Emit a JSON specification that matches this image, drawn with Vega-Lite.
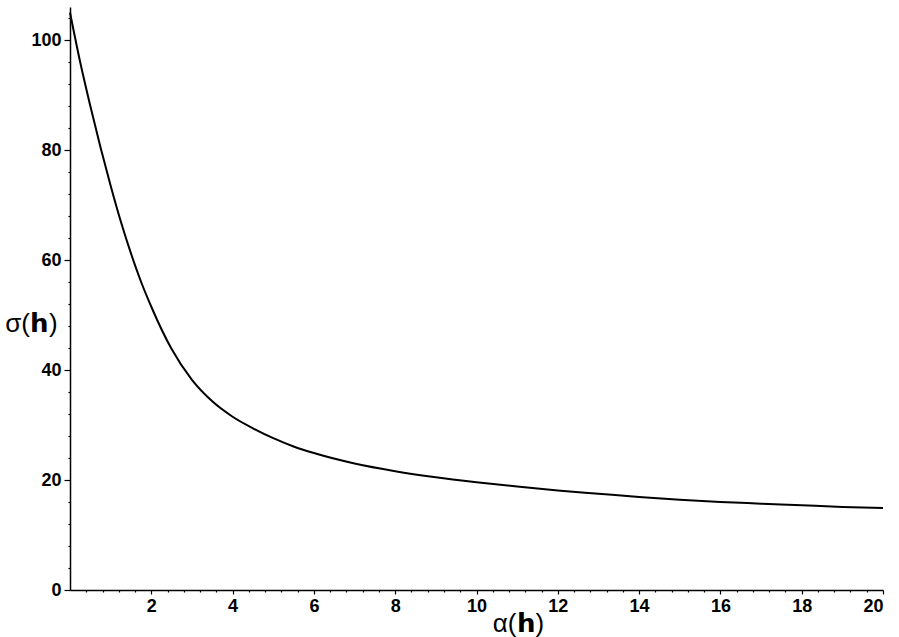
{
  "$schema": "https://vega.github.io/schema/vega-lite/v6.json",
  "width": 813,
  "height": 583,
  "autosize": {"type": "none"},
  "padding": {"left": 70, "top": 7, "right": 16, "bottom": 47},
  "background": "white",
  "config": {
    "view": {"stroke": null},
    "axis": {
      "grid": false,
      "domainColor": "black",
      "domainWidth": 1.5,
      "tickColor": "black",
      "tickWidth": 1.2,
      "labelColor": "black",
      "labelFont": "Liberation Sans",
      "labelFontSize": 18,
      "labelFontWeight": "bold",
      "titleFont": "Liberation Sans",
      "titleColor": "black"
    }
  },
  "data": {
    "values": [
      {"a": 0, "s": 105},
      {"a": 0.25, "s": 96},
      {"a": 0.5, "s": 88},
      {"a": 0.75, "s": 80.5},
      {"a": 1.0, "s": 73.5},
      {"a": 1.25, "s": 67},
      {"a": 1.5, "s": 61.2},
      {"a": 1.75, "s": 56},
      {"a": 2.0, "s": 51.5},
      {"a": 2.5, "s": 43.8},
      {"a": 3.0, "s": 38.2},
      {"a": 3.5, "s": 34.3},
      {"a": 4.0, "s": 31.5},
      {"a": 4.5, "s": 29.4},
      {"a": 5.0, "s": 27.6},
      {"a": 5.5, "s": 26.1},
      {"a": 6.0, "s": 24.9},
      {"a": 7.0, "s": 23},
      {"a": 8.0, "s": 21.6},
      {"a": 9.0, "s": 20.5},
      {"a": 10, "s": 19.6},
      {"a": 11, "s": 18.8},
      {"a": 12, "s": 18.1},
      {"a": 13, "s": 17.5},
      {"a": 14, "s": 16.9},
      {"a": 15, "s": 16.4},
      {"a": 16, "s": 16.0},
      {"a": 17, "s": 15.7},
      {"a": 18, "s": 15.4},
      {"a": 19, "s": 15.1},
      {"a": 20, "s": 14.9}
    ]
  },
  "layer": [
    {
      "mark": {"type": "line", "opacity": 0},
      "encoding": {
        "x": {
          "field": "a", "type": "quantitative",
          "scale": {"domain": [0, 20], "nice": false, "zero": false},
          "axis": {"orient": "bottom", "values": [0.4,0.8,1.2,1.6,2.4,2.8,3.2,3.6,4.4,4.8,5.2,5.6,6.4,6.8,7.2,7.6,8.4,8.8,9.2,9.6,10.4,10.8,11.2,11.6,12.4,12.8,13.2,13.6,14.4,14.8,15.2,15.6,16.4,16.8,17.2,17.6,18.4,18.8,19.2,19.6], "labels": false, "tickSize": 2, "domain": false, "title": null}
        },
        "y": {
          "field": "s", "type": "quantitative",
          "scale": {"domain": [0, 106], "nice": false, "zero": false},
          "axis": {"orient": "left", "values": [4,8,12,16,24,28,32,36,44,48,52,56,64,68,72,76,84,88,92,96,104], "labels": false, "tickSize": 2, "domain": false, "title": null}
        }
      }
    },
    {
      "mark": {"type": "line", "color": "black", "strokeWidth": 2, "interpolate": "monotone"},
      "encoding": {
        "x": {
          "field": "a", "type": "quantitative",
          "scale": {"domain": [0, 20], "nice": false, "zero": false},
          "axis": {
            "orient": "bottom", "values": [2,4,6,8,10,12,14,16,18,20],
            "tickSize": 4, "labelPadding": 3,
            "title": "α(𝗵)", "titleFontSize": 26, "titleFontWeight": "normal",
            "titleX": 448, "titleY": 33, "titleBaseline": "middle", "titleAlign": "center"
          }
        },
        "y": {
          "field": "s", "type": "quantitative",
          "scale": {"domain": [0, 106], "nice": false, "zero": false},
          "axis": {
            "orient": "left", "values": [0,20,40,60,80,100],
            "tickSize": 6, "labelPadding": 3,
            "title": "σ(𝗵)", "titleFontSize": 26, "titleFontWeight": "normal", "titleAngle": 0,
            "titleX": -39, "titleY": 316, "titleBaseline": "middle", "titleAlign": "center"
          }
        }
      }
    }
  ],
  "resolve": {"axis": {"x": "independent", "y": "independent"}}
}
